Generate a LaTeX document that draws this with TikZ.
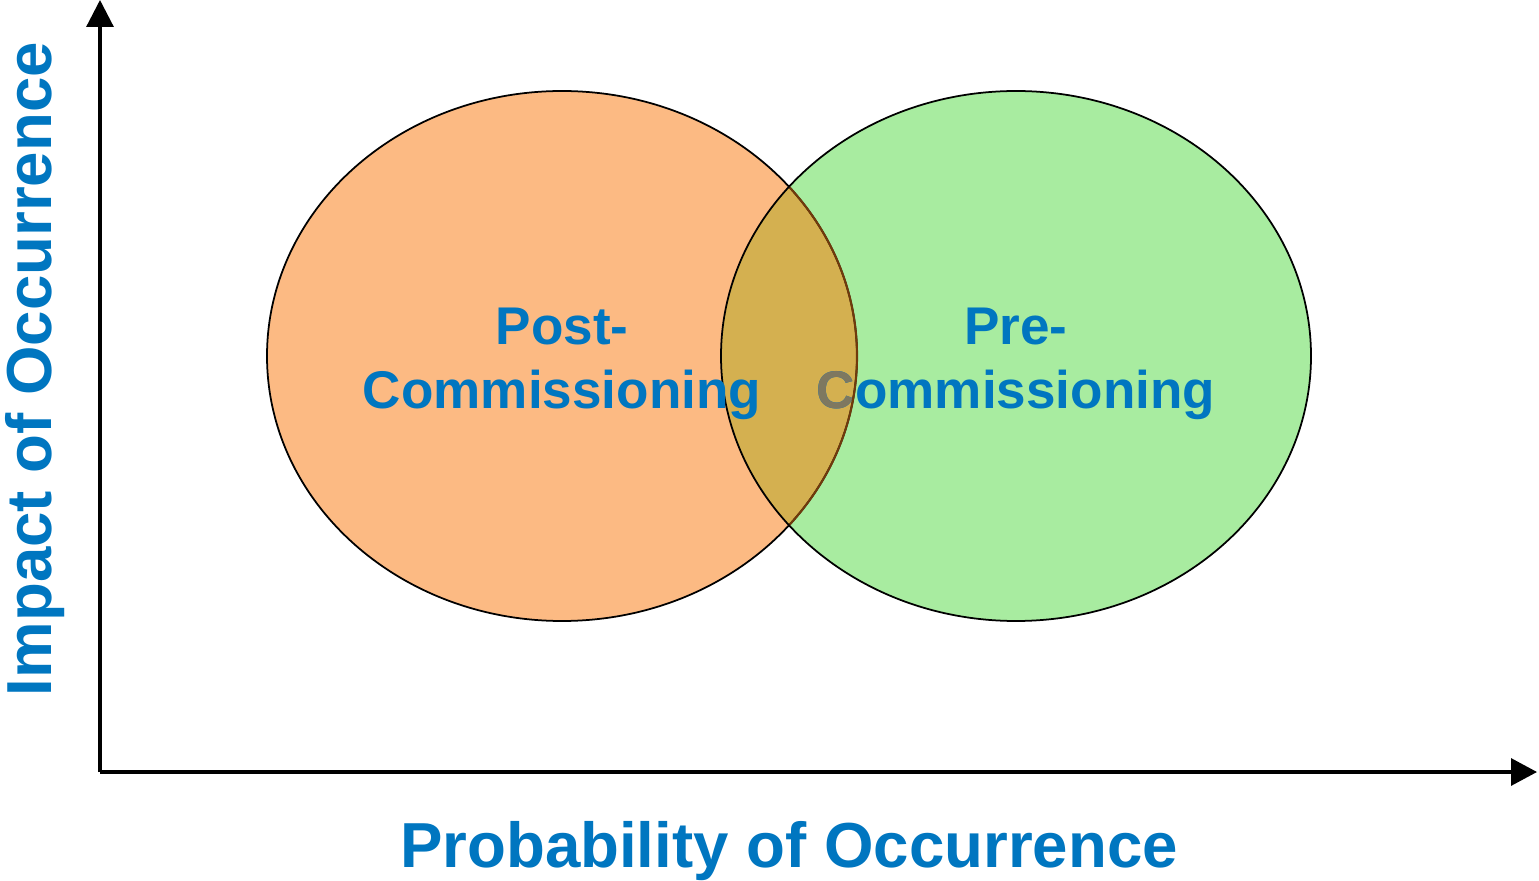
\documentclass[tikz,border=0pt]{standalone}
\usepackage{fontspec}
\setmainfont{Liberation Sans}
\usepackage{xcolor}
\usetikzlibrary{arrows.meta}
\definecolor{postorange}{RGB}{252,186,131}
\definecolor{pregreen}{RGB}{168,236,160}
\definecolor{lensgold}{RGB}{212,176,80}
\definecolor{lensedge}{RGB}{112,58,12}
\definecolor{labelblue}{RGB}{0,118,192}
\definecolor{greyC}{RGB}{126,120,96}

\begin{document}
\begin{tikzpicture}[line width=0.9pt,
    axislabel/.style={font=\fontsize{18.1}{21}\selectfont\bfseries, text=labelblue, inner sep=0pt},
    phaselabel/.style={font=\fontsize{15.1}{18.2}\selectfont\bfseries, text=labelblue, align=center, inner sep=0pt}]
        \useasboundingbox (0,0) rectangle (15.39,8.8);
        % axes
        \coordinate (origin) at (1,1.08);
        \coordinate (ytop) at (1,8.8);
        \coordinate (xend) at (15.37,1.08);
        \draw[-{Triangle[length=0.27cm,width=0.27cm]}] (origin) -- (ytop);
        \draw[-{Triangle[length=0.26cm,width=0.27cm]}] (origin) -- (xend);
        \node[axislabel, anchor=base] (xlabel) at (7.89,0.13) {Probability of Occurrence};
        \node[axislabel, anchor=base, rotate=90] (ylabel) at (0.51,5.11) {Impact of Occurrence};
        % the two phases
        \coordinate (postc) at (5.62,5.24);
        \coordinate (prec) at (10.16,5.24);
        \fill[postorange] (postc) ellipse [x radius=2.95, y radius=2.65];
        \fill[pregreen] (prec) ellipse [x radius=2.95, y radius=2.65];
        \begin{scope}
            \clip (postc) ellipse [x radius=2.95, y radius=2.65];
            \fill[lensgold] (prec) ellipse [x radius=2.95, y radius=2.65];
        \end{scope}
        \node[phaselabel] (pre) at (10.16,5.165) {Pre-\\Commissioning};
        \begin{scope}
            \clip (postc) ellipse [x radius=2.95, y radius=2.65];
            \node[phaselabel, text=greyC] (pregrey) at (pre) {Pre-\\Commissioning};
        \end{scope}
        \draw[line width=0.5pt] (postc) ellipse [x radius=2.95, y radius=2.65];
        \begin{scope}
            \clip (prec) ellipse [x radius=2.95, y radius=2.65];
            \draw[line width=0.6pt, lensedge] (postc) ellipse [x radius=2.95, y radius=2.65];
        \end{scope}
        \draw[line width=0.5pt] (prec) ellipse [x radius=2.95, y radius=2.65];
        \node[phaselabel] (post) at (5.62,5.165) {Post-\\Commissioning};
    \end{tikzpicture}
\end{document}
